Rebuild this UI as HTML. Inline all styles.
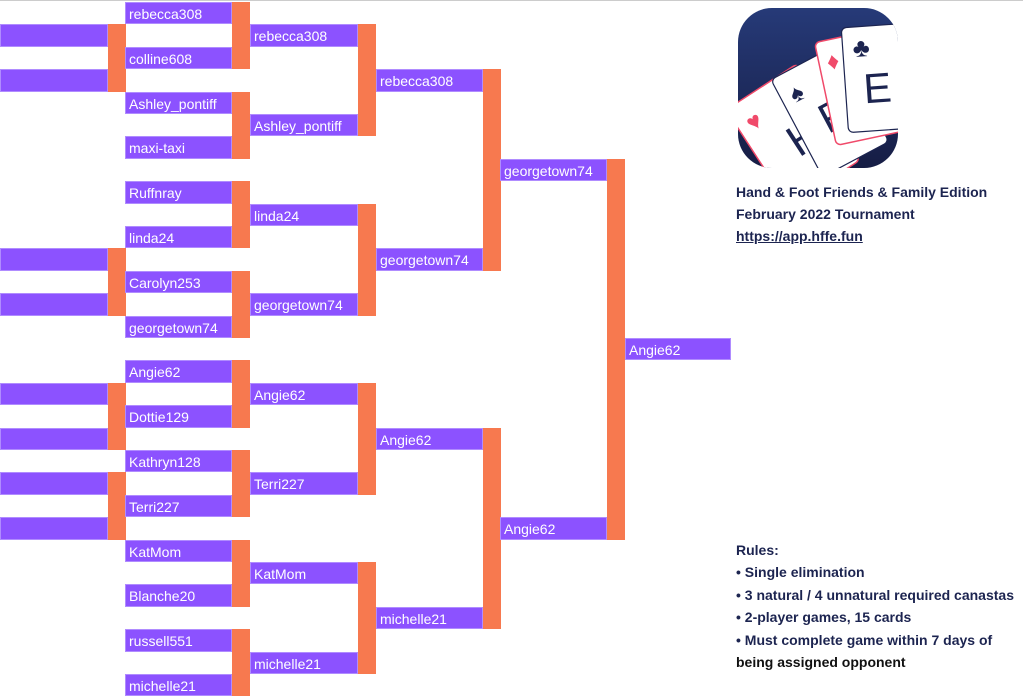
<!DOCTYPE html>
<html><head><meta charset="utf-8"><style>
body{margin:0;width:1023px;height:695px;overflow:hidden;background:#fff;position:relative;font-family:"Liberation Sans",sans-serif;border-top:1px solid #ccc;box-sizing:border-box}
.p,.o{position:absolute;box-sizing:border-box}
.p{background:#8c52ff;height:22.4px;color:#fff;font-size:14px;line-height:22.4px;padding-left:3px;white-space:nowrap;border:1px solid #b08cff}
.o{background:#f7794f;width:17.5px}
.c0{left:0;width:108px}.c1{left:125px;width:107px}.c2{left:250px;width:108px}.c3{left:376px;width:107px}.c4{left:500px;width:107px}.c5{left:625px;width:106px}
.t{position:absolute;left:736px;font-weight:bold;font-size:14px;color:#1c2450;line-height:22.4px}
</style></head><body>
<div class="p c0" style="top:23.4px"></div><div class="p c0" style="top:68.2px"></div>
<div class="p c0" style="top:247.4px"></div><div class="p c0" style="top:292.2px"></div>
<div class="p c0" style="top:381.8px"></div><div class="p c0" style="top:426.6px"></div>
<div class="p c0" style="top:471.4px"></div><div class="p c0" style="top:516.2px"></div>
<div class="o" style="left:108px;top:23.4px;height:67.2px"></div>
<div class="o" style="left:108px;top:247.4px;height:67.2px"></div>
<div class="o" style="left:108px;top:381.8px;height:67.2px"></div>
<div class="o" style="left:108px;top:471.4px;height:67.2px"></div>
<div class="p c1" style="top:1px">rebecca308</div>
<div class="p c1" style="top:45.8px">colline608</div>
<div class="p c1" style="top:90.6px">Ashley_pontiff</div>
<div class="p c1" style="top:135.4px">maxi-taxi</div>
<div class="p c1" style="top:180.2px">Ruffnray</div>
<div class="p c1" style="top:225px">linda24</div>
<div class="p c1" style="top:269.8px">Carolyn253</div>
<div class="p c1" style="top:314.6px">georgetown74</div>
<div class="p c1" style="top:359.4px">Angie62</div>
<div class="p c1" style="top:404.2px">Dottie129</div>
<div class="p c1" style="top:449px">Kathryn128</div>
<div class="p c1" style="top:493.8px">Terri227</div>
<div class="p c1" style="top:538.6px">KatMom</div>
<div class="p c1" style="top:583.4px">Blanche20</div>
<div class="p c1" style="top:628.2px">russell551</div>
<div class="p c1" style="top:673px">michelle21</div>
<div class="o" style="left:232px;top:1px;height:67.2px"></div>
<div class="o" style="left:232px;top:90.6px;height:67.2px"></div>
<div class="o" style="left:232px;top:180.2px;height:67.2px"></div>
<div class="o" style="left:232px;top:269.8px;height:67.2px"></div>
<div class="o" style="left:232px;top:359.4px;height:67.2px"></div>
<div class="o" style="left:232px;top:449px;height:67.2px"></div>
<div class="o" style="left:232px;top:538.6px;height:67.2px"></div>
<div class="o" style="left:232px;top:628.2px;height:67.2px"></div>
<div class="p c2" style="top:23.4px">rebecca308</div>
<div class="p c2" style="top:113px">Ashley_pontiff</div>
<div class="p c2" style="top:202.6px">linda24</div>
<div class="p c2" style="top:292.2px">georgetown74</div>
<div class="p c2" style="top:381.8px">Angie62</div>
<div class="p c2" style="top:471.4px">Terri227</div>
<div class="p c2" style="top:561px">KatMom</div>
<div class="p c2" style="top:650.6px">michelle21</div>
<div class="o" style="left:358px;top:23.4px;height:112px"></div>
<div class="o" style="left:358px;top:202.6px;height:112px"></div>
<div class="o" style="left:358px;top:381.8px;height:112px"></div>
<div class="o" style="left:358px;top:561px;height:112px"></div>
<div class="p c3" style="top:68.2px">rebecca308</div>
<div class="p c3" style="top:247.4px">georgetown74</div>
<div class="p c3" style="top:426.6px">Angie62</div>
<div class="p c3" style="top:605.8px">michelle21</div>
<div class="o" style="left:483px;top:68.2px;height:201.6px"></div>
<div class="o" style="left:483px;top:426.6px;height:201.6px"></div>
<div class="p c4" style="top:157.8px">georgetown74</div>
<div class="p c4" style="top:516.2px">Angie62</div>
<div class="o" style="left:607px;top:157.8px;height:380.8px"></div>
<div class="p c5" style="top:337px">Angie62</div>

<svg style="position:absolute;left:738px;top:7px" width="160" height="160" viewBox="0 0 160 160">
<defs><linearGradient id="g" x1="0" y1="0" x2="0" y2="1"><stop offset="0" stop-color="#263a78"/><stop offset="1" stop-color="#161d44"/></linearGradient>
<clipPath id="cp"><rect width="160" height="160" rx="34"/></clipPath></defs>
<g clip-path="url(#cp)">
<rect width="160" height="160" fill="url(#g)"/>
<g transform="rotate(-33 20 105)"><rect x="-5" y="85" width="85" height="115" rx="5" fill="#fff" stroke="#f04a6a" stroke-width="1.5"/><text x="5" y="118" font-size="24" fill="#f04a6a">♥</text><text x="30" y="165" font-size="44" fill="#1c2450" font-family="Liberation Sans">H</text></g>
<g transform="rotate(-28 60 80)"><rect x="40" y="60" width="75" height="110" rx="5" fill="#fff" stroke="#1c2450" stroke-width="1.2"/><text x="50" y="92" font-size="24" fill="#1c2450">♠</text><text x="65" y="135" font-size="42" fill="#1c2450" font-family="Liberation Sans">F</text></g>
<g transform="rotate(-12 90 40)"><rect x="78" y="32" width="72" height="105" rx="5" fill="#fff" stroke="#f04a6a" stroke-width="1.5"/><text x="86" y="62" font-size="24" fill="#f04a6a">♦</text><text x="96" y="105" font-size="42" fill="#f04a6a" font-family="Liberation Sans">F</text></g>
<g transform="rotate(-4 130 30)"><rect x="104" y="18" width="72" height="105" rx="5" fill="#fff" stroke="#1c2450" stroke-width="1.2"/><text x="114" y="48" font-size="26" fill="#1c2450">♣</text><text x="122" y="95" font-size="42" fill="#1c2450" font-family="Liberation Sans">E</text></g>
</g></svg>

<div class="t" style="top:180px">Hand &amp; Foot Friends &amp; Family Edition</div>
<div class="t" style="top:202px">February 2022 Tournament</div>
<div class="t" style="top:224px;text-decoration:underline">https://app.hffe.fun</div>
<div class="t" style="top:538px">Rules:<br>• Single elimination<br>• 3 natural / 4 unnatural required canastas<br>• 2-player games, 15 cards<br>• Must complete game within 7 days of<br><span style="color:#111">being assigned opponent</span></div>
</body></html>
